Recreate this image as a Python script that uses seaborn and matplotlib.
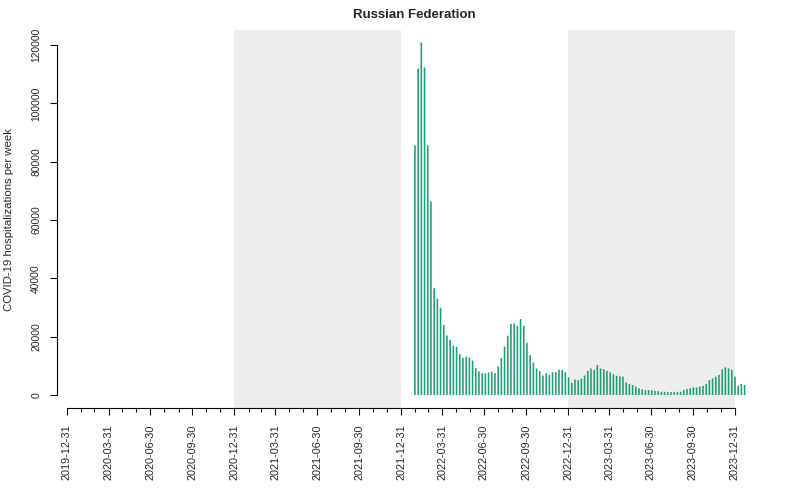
import numpy as np
import pandas as pd
import matplotlib
matplotlib.use("Agg")
import matplotlib.pyplot as plt
import matplotlib.dates as mdates
import seaborn as sns

# ---- data ----
first_week = "2022-01-30"
hospitalizations = [
    85500, 111900, 120900, 112300, 85600, 66300, 36600, 33000, 29900, 24000,
    20400, 18800, 17000, 16500, 14000, 12700, 13100, 12900, 11800, 9200,
    8100, 7500, 7400, 7700, 8000, 7500, 9800, 12700, 16600, 20300,
    24400, 24500, 23700, 26000, 23700, 17900, 13700, 11100, 9100, 8200,
    6700, 7400, 6900, 7800, 7900, 8700, 8600, 7800, 6100, 4200,
    5300, 5100, 5600, 6700, 8300, 9100, 8600, 10300, 9100, 8900,
    8300, 7800, 7100, 6600, 6400, 6300, 4300, 3800, 3400, 2900,
    2300, 1900, 1700, 1700, 1600, 1400, 1300, 1100, 1100, 1000,
    1000, 1000, 1100, 1100, 1700, 2100, 2300, 2600, 2600, 2900,
    3100, 3800, 5100, 5700, 6300, 6900, 8800, 9500, 9100, 8600,
    6300, 3200, 3800, 3400,
]
major_ticks = [
    "2019-12-31", "2020-03-31", "2020-06-30", "2020-09-30",
    "2020-12-31", "2021-03-31", "2021-06-30", "2021-09-30",
    "2021-12-31", "2022-03-31", "2022-06-30", "2022-09-30",
    "2022-12-31", "2023-03-31", "2023-06-30", "2023-09-30",
    "2023-12-31",
]
y_ticks = [0, 20000, 40000, 60000, 80000, 100000, 120000]
shaded_years = [("2020-12-31", "2021-12-31"), ("2022-12-31", "2023-12-31")]
title = "Russian Federation"
ylabel = "COVID-19 hospitalizations per week"

dates = pd.date_range(first_week, periods=len(hospitalizations), freq="7D")
df = pd.DataFrame({"x": mdates.date2num(dates), "y": hospitalizations})

# ---- style ----
sns.set_theme(style="white")
plt.rcParams["font.family"] = ["Liberation Sans", "DejaVu Sans"]

fig = plt.figure(figsize=(8, 4.94), dpi=100)
ax = fig.add_axes([57 / 800, 86 / 494, (771 - 57) / 800, 378 / 494])

sns.barplot(data=df, x="x", y="y", native_scale=True, width=0.5,
            color="#1B9E77", saturation=1, linewidth=0, errorbar=None, ax=ax,
            zorder=2)
for p in ax.patches:
    p.set_snap(False)

day0 = mdates.date2num(pd.Timestamp("2019-12-31"))
px_per_day = 668 / 1461
ax.set_xlim(day0 - 10 / px_per_day, day0 + (771 - 67) / px_per_day)
unit_per_px = 120000 / 350
ax.set_ylim(-13 * unit_per_px, 120000 + 15 * unit_per_px)

for a, b in shaded_years:
    ax.axvspan(mdates.date2num(pd.Timestamp(a)), mdates.date2num(pd.Timestamp(b)),
               color="#EDEDED", zorder=0, lw=0)

# axes styling in R base style
for s in ["top", "right"]:
    ax.spines[s].set_visible(False)
for s in ["left", "bottom"]:
    ax.spines[s].set_color("black")
    ax.spines[s].set_linewidth(0.8)
major_num = mdates.date2num(pd.to_datetime(major_ticks))
ax.spines["left"].set_bounds(0, 120000)
ax.spines["bottom"].set_bounds(major_num[0], major_num[-1])

month_ends = pd.date_range("2019-12-31", "2023-12-31", freq="ME")
minor_num = [m for m in mdates.date2num(month_ends) if m not in set(major_num)]

ax.set_xticks(major_num)
ax.set_xticklabels(major_ticks, rotation=90, fontsize=7.8)
ax.set_xticks(minor_num, minor=True)
ax.tick_params(axis="x", which="major", direction="out", length=5.2, width=0.8,
               color="black", pad=6.5, bottom=True)
ax.tick_params(axis="x", which="minor", direction="out", length=3.0, width=0.8,
               color="black", bottom=True)

ax.set_yticks(y_ticks)
ax.set_yticklabels([str(v) for v in y_ticks], rotation=90, va="center", fontsize=7.4)
ax.tick_params(axis="y", direction="out", length=5.4, width=0.8, color="black",
               pad=6, left=True)

ax.set_xlabel("")
ax.set_ylabel("")
ax.grid(False)
ax.set_facecolor("white")

fig.text(9 / 800, 1 - 219 / 494, ylabel, rotation=90, ha="center", va="center",
         fontsize=8.2)
fig.text(414 / 800, 1 - 15 / 494, title, ha="center", va="center",
         fontsize=9.5, fontweight="bold")

fig.savefig("out.png", dpi=100)
